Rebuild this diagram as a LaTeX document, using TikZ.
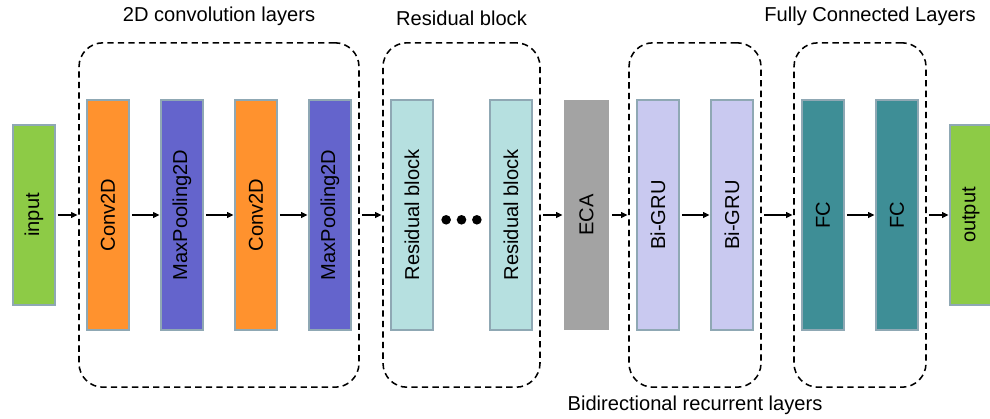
\documentclass[tikz,border=0pt]{standalone}
\usepackage{fontspec}
\setmainfont{Liberation Sans}
\usepackage{tikz}
\usetikzlibrary{arrows.meta,positioning,fit,calc}
\definecolor{LeafGreen}{HTML}{8DCB46}
\definecolor{Tangerine}{HTML}{FF922E}
\definecolor{Violet}{HTML}{6464CC}
\definecolor{PaleCyan}{HTML}{B6E0E0}
\definecolor{StoneGray}{HTML}{A3A3A3}
\definecolor{Lilac}{HTML}{C9C9F0}
\definecolor{Teal}{HTML}{3E8E96}
\definecolor{EdgeGray}{HTML}{8FA8B4}

\begin{document}
\begin{tikzpicture}[
    font=\fontsize{14.3}{16}\selectfont,
    layer/.style={draw=EdgeGray, line width=0.9pt, outer sep=0pt, minimum width=1.05cm, minimum height=5.75cm, inner sep=0pt},
    io/.style={layer, fill=LeafGreen, minimum height=4.5cm},
    group/.style={draw, dashed, dash pattern=on 4.5pt off 3pt, line width=1.1pt, outer sep=0pt, rounded corners=6mm, inner xsep=0.2cm, inner ysep=1.43cm},
    dot/.style={circle, fill=black, inner sep=0pt, minimum size=0.24cm},
    arr/.style={-{Triangle[length=1.6mm, width=1.4mm]}, line width=1pt, shorten <=2pt, shorten >=1pt}
]
\useasboundingbox (0,0) rectangle (24.75,-10.45);
\node[io] (in) at (0.85,-5.375) {\rotatebox{90}{input}};
\node[layer, fill=Tangerine, right=0.8cm of in] (c1) {\rotatebox{90}{Conv2D}};
\node[layer, fill=Violet, right=0.8cm of c1] (m1) {\rotatebox{90}{MaxPooling2D}};
\node[layer, fill=Tangerine, right=0.8cm of m1] (c2) {\rotatebox{90}{Conv2D}};
\node[layer, fill=Violet, right=0.8cm of c2] (m2) {\rotatebox{90}{MaxPooling2D}};
\node[layer, fill=PaleCyan, right=1.0cm of m2] (r1) {\rotatebox{90}{Residual block}};
\node[layer, fill=PaleCyan, right=1.425cm of r1] (r2) {\rotatebox{90}{Residual block}};
\node[layer, draw=none, fill=StoneGray, minimum width=1.125cm, right=0.8cm of r2] (eca) {\rotatebox{90}{ECA}};
\node[layer, fill=Lilac, right=0.7cm of eca] (g1) {\rotatebox{90}{Bi-GRU}};
\node[layer, fill=Lilac, right=0.8cm of g1] (g2) {\rotatebox{90}{Bi-GRU}};
\node[layer, fill=Teal, right=1.225cm of g2] (f1) {\rotatebox{90}{FC}};
\node[layer, fill=Teal, right=0.8cm of f1] (f2) {\rotatebox{90}{FC}};
\node[io, right=0.8cm of f2] (out) {\rotatebox{90}{output}};
% dots between the residual blocks
\node[dot] (d2) at ($(r1)!0.5!(r2)+(0,-0.12)$) {};
\node[dot, left=0.13cm of d2] (d1) {};
\node[dot, right=0.13cm of d2] (d3) {};
% dashed groups
\node[group, fit=(c1)(m2)] (convbox) {};
\node[group, fit=(r1)(r2)] (resbox) {};
\node[group, fit=(g1)(g2)] (grubox) {};
\node[group, fit=(f1)(f2)] (fcbox) {};
\node[above=0.3cm of convbox] (convlbl) {2D convolution layers};
\node[above=0.3cm of resbox] (reslbl) {Residual block};
\node[above=0.3cm of fcbox, xshift=0.25cm] (fclbl) {Fully Connected Layers};
\node[below=0.1cm of grubox] (grulbl) {Bidirectional recurrent layers};
% arrows
\draw[arr] (in) -- (convbox);
\draw[arr] (c1) -- (m1);
\draw[arr] (m1) -- (c2);
\draw[arr] (c2) -- (m2);
\draw[arr] (convbox) -- (resbox);
\draw[arr] (resbox) -- (eca);
\draw[arr] (eca) -- (grubox);
\draw[arr] (g1) -- (g2);
\draw[arr] (grubox) -- (fcbox);
\draw[arr] (f1) -- (f2);
\draw[arr] (fcbox) -- (out);
\end{tikzpicture}
\end{document}
